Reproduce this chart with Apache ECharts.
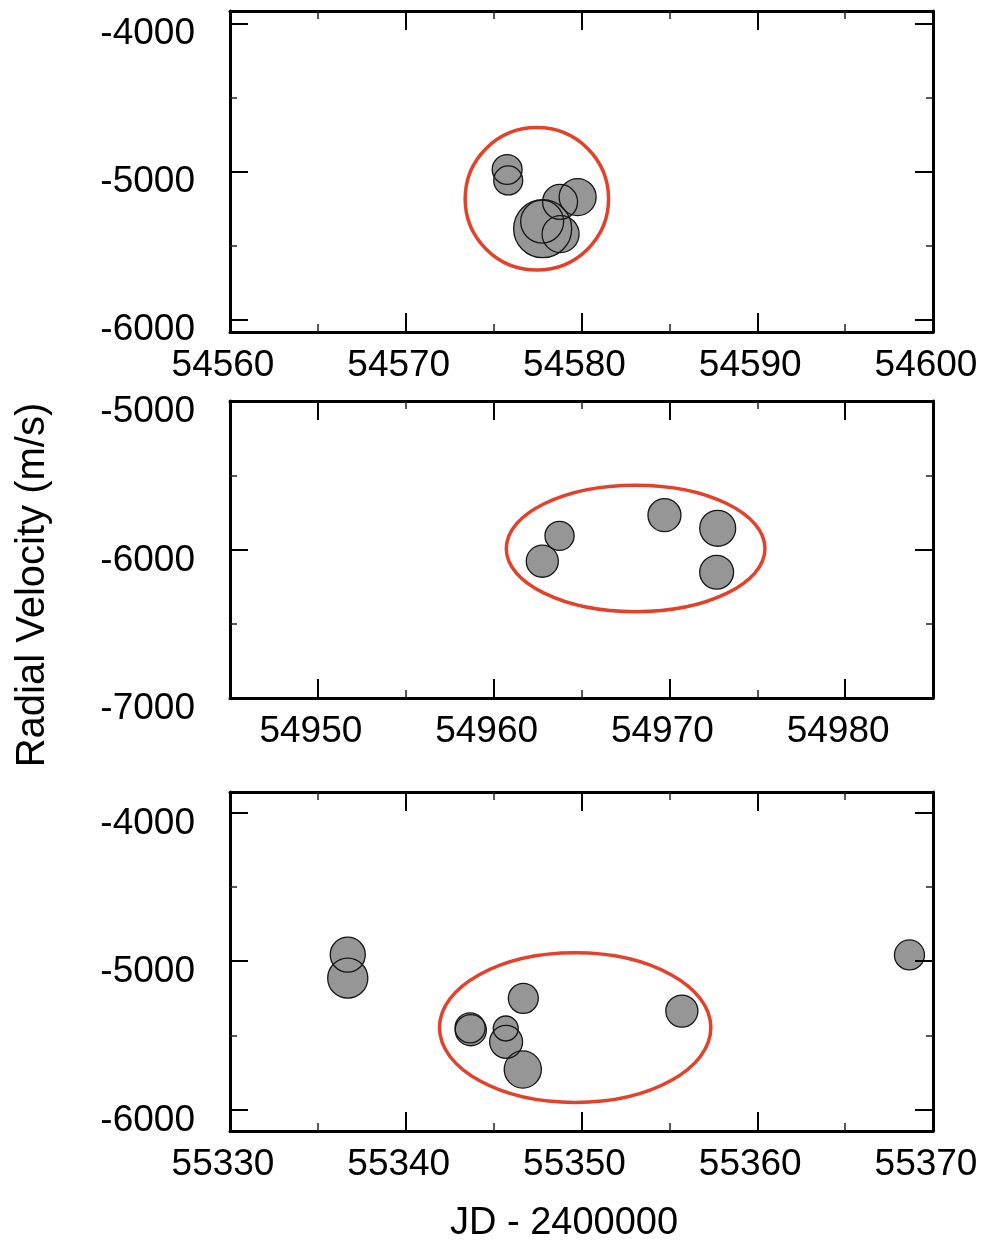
<!DOCTYPE html>
<html><head><meta charset="utf-8">
<script src="https://cdn.jsdelivr.net/npm/echarts@6/dist/echarts.min.js"></script>
<style>html,body{margin:0;padding:0;background:#fff}#c{width:985px;height:1243px}</style>
</head><body><div id="c"></div>
<script>
// ---------- Panel 1 (JD - 2400000 : 54560 .. 54600) ----------
const p1Dates      = [54575.77, 54575.83, 54579.78, 54578.78, 54577.79, 54577.76, 54578.81];
const p1Velocities = [-4988, -5062, -5174, -5207, -5388, -5340, -5424];
const p1Errors     = [101, 98, 125, 118, 196, 145, 125];
const p1XTicks     = [54560, 54570, 54580, 54590, 54600];
const p1XMinor     = [54565, 54575, 54585, 54595];
const p1YTicks     = [-6000, -5000, -4000];
const p1YMinor     = [-5500, -4500];

// ---------- Panel 2 (54945 .. 54985) ----------
const p2Dates      = [54962.77, 54963.75, 54969.72, 54972.75, 54972.69];
const p2Velocities = [-6079, -5908, -5769, -5857, -6153];
const p2Errors     = [108, 98, 111, 121, 114];
const p2XTicks     = [54950, 54960, 54970, 54980];
const p2XMinor     = [54955, 54965, 54975];
const p2YTicks     = [-7000, -6000, -5000];
const p2YMinor     = [-6500, -5500];

// ---------- Panel 3 (55330 .. 55370) ----------
const p3Dates      = [55336.70, 55336.70, 55343.66, 55343.70, 55345.69, 55345.71, 55346.69, 55346.66, 55355.71, 55368.66];
const p3Velocities = [-4957, -5115, -5450, -5465, -5454, -5544, -5251, -5730, -5337, -4959];
const p3Errors     = [118, 135, 101, 105, 84, 111, 101, 125, 108, 101];
const p3XTicks     = [55330, 55340, 55350, 55360, 55370];
const p3XMinor     = [55335, 55345, 55355, 55365];
const p3YTicks     = [-6000, -5000, -4000];
const p3YMinor     = [-5500, -4500];

// ---------- Highlight ellipses (data units) ----------
const ellipseCenterX = [54577.46, 54968.08, 55349.64];
const ellipseCenterY = [-5186, -5993, -5448];
const ellipseHalfWidthDays = [4.08, 7.36, 7.72];
const ellipseHalfHeightMs  = [481, 426, 504];

const xRanges = [[54560, 54600], [54945, 54985], [55330, 55370]];
const yRanges = [[-6086, -3917], [-7000, -5000], [-6144, -3862]];

const FONT = '"Liberation Sans", Arial, Helvetica, sans-serif';
const panels = [
  {d: p1Dates, v: p1Velocities, e: p1Errors, xt: p1XTicks, xm: p1XMinor, yt: p1YTicks, ym: p1YMinor},
  {d: p2Dates, v: p2Velocities, e: p2Errors, xt: p2XTicks, xm: p2XMinor, yt: p2YTicks, ym: p2YMinor},
  {d: p3Dates, v: p3Velocities, e: p3Errors, xt: p3XTicks, xm: p3XMinor, yt: p3YTicks, ym: p3YMinor}
];
const grids = [
  {left: 230, right: 52, top: 11, height: 321},
  {left: 230, right: 52, top: 401, height: 297},
  {left: 230, right: 52, top: 792, height: 339}
];

const fmt = v => String(v);
const xAxes = [], yAxes = [], series = [];

panels.forEach((p, g) => {
  const [xmin, xmax] = xRanges[g];
  const [ymin, ymax] = yRanges[g];
  const base = {gridIndex: g, type: 'value', min: xmin, max: xmax, z: 10, splitLine: {show: false}};
  const lineOn = {show: true, onZero: false, lineStyle: {color: '#000', width: 3}};
  const lineOff = {show: false, onZero: false};
  // x axes
  xAxes.push(Object.assign({}, base, {position: 'bottom', axisLine: lineOn,
    axisTick: {show: true, inside: true, length: 19, customValues: p.xt, lineStyle: {color: '#000', width: 2}},
    axisLabel: {show: true, customValues: p.xt, formatter: fmt, fontSize: 37, fontFamily: FONT, color: '#000', margin: 15, padding: [0, 14, 0, 0]}}));
  xAxes.push(Object.assign({}, base, {position: 'bottom', axisLine: lineOff,
    axisTick: {show: true, inside: true, length: 8, customValues: p.xm, lineStyle: {color: '#222', width: 1.5}},
    axisLabel: {show: false}}));
  xAxes.push(Object.assign({}, base, {position: 'top', axisLine: lineOn,
    axisTick: {show: true, inside: true, length: 19, customValues: p.xt, lineStyle: {color: '#000', width: 2}},
    axisLabel: {show: false}}));
  xAxes.push(Object.assign({}, base, {position: 'top', axisLine: lineOff,
    axisTick: {show: true, inside: true, length: 8, customValues: p.xm, lineStyle: {color: '#222', width: 1.5}},
    axisLabel: {show: false}}));
  // y axes
  const ybase = {gridIndex: g, type: 'value', min: ymin, max: ymax, z: 10, splitLine: {show: false}};
  yAxes.push(Object.assign({}, ybase, {position: 'left', axisLine: lineOn,
    axisTick: {show: true, inside: true, length: 18, customValues: p.yt, lineStyle: {color: '#000', width: 2}},
    axisLabel: {show: true, customValues: p.yt, formatter: fmt, fontSize: 37, fontFamily: FONT, color: '#000', margin: 35,
      verticalAlign: 'top', lineHeight: 22}}));
  yAxes.push(Object.assign({}, ybase, {position: 'left', axisLine: lineOff,
    axisTick: {show: true, inside: true, length: 7, customValues: p.ym, lineStyle: {color: '#222', width: 1.5}},
    axisLabel: {show: false}}));
  yAxes.push(Object.assign({}, ybase, {position: 'right', axisLine: lineOn,
    axisTick: {show: true, inside: true, length: 18, customValues: p.yt, lineStyle: {color: '#000', width: 2}},
    axisLabel: {show: false}}));
  yAxes.push(Object.assign({}, ybase, {position: 'right', axisLine: lineOff,
    axisTick: {show: true, inside: true, length: 7, customValues: p.ym, lineStyle: {color: '#222', width: 1.5}},
    axisLabel: {show: false}}));

  const xi = 4 * g, yi = 4 * g;
  // ellipse
  series.push({
    type: 'custom', xAxisIndex: xi, yAxisIndex: yi, z: 1, silent: true,
    data: [[ellipseCenterX[g], ellipseCenterY[g], ellipseHalfWidthDays[g], ellipseHalfHeightMs[g]]],
    encode: {x: 0, y: 1},
    renderItem: (params, api) => {
      const c = api.coord([api.value(0), api.value(1)]);
      const s = api.size([api.value(2), api.value(3)]);
      return {type: 'ellipse', shape: {cx: c[0], cy: c[1], rx: s[0], ry: s[1]},
        style: {fill: 'none', stroke: '#e4412b', lineWidth: 3.5}};
    }
  });
  const pts = p.d.map((x, i) => [x, p.v[i], p.e[i]]);
  // fills first
  series.push({
    type: 'custom', xAxisIndex: xi, yAxisIndex: yi, z: 2, silent: true, data: pts, encode: {x: 0, y: 1},
    renderItem: (params, api) => {
      const c = api.coord([api.value(0), api.value(1)]);
      const r = api.size([0, api.value(2)])[1];
      return {type: 'circle', shape: {cx: c[0], cy: c[1], r: r}, style: {fill: '#969696', stroke: null}};
    }
  });
  // outlines on top
  series.push({
    type: 'custom', xAxisIndex: xi, yAxisIndex: yi, z: 3, silent: true, data: pts, encode: {x: 0, y: 1},
    renderItem: (params, api) => {
      const c = api.coord([api.value(0), api.value(1)]);
      const r = api.size([0, api.value(2)])[1];
      return {type: 'circle', shape: {cx: c[0], cy: c[1], r: r}, style: {fill: 'none', stroke: '#151515', lineWidth: 1.3}};
    }
  });
});

const chart = echarts.init(document.getElementById('c'), null, {renderer: 'canvas'});
chart.setOption({
  animation: false,
  backgroundColor: '#fff',
  grid: grids,
  xAxis: xAxes,
  yAxis: yAxes,
  series: series,
  graphic: [
    {type: 'text', x: 33, y: 585, rotation: Math.PI / 2,
     style: {text: 'Radial Velocity (m/s)', font: '40px ' + FONT, fill: '#000', textAlign: 'center', textVerticalAlign: 'middle'}},
    {type: 'text', x: 564, y: 1224,
     style: {text: 'JD - 2400000', font: '38px ' + FONT, fill: '#000', textAlign: 'center', textVerticalAlign: 'middle'}}
  ]
});
</script></body></html>
